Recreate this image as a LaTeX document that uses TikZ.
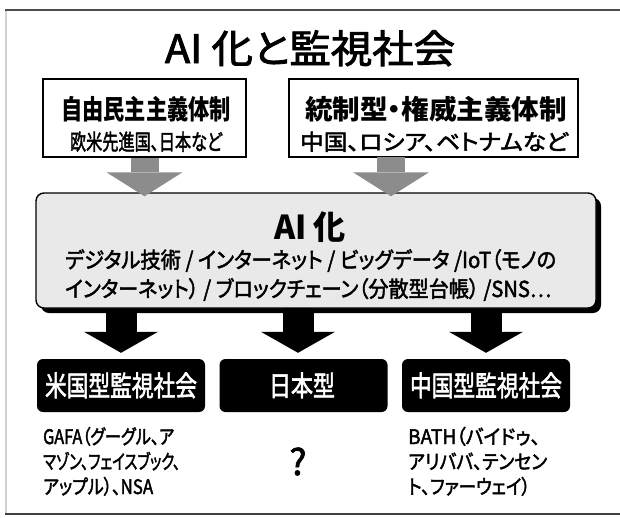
\documentclass[tikz,border=0pt]{standalone}
\usepackage{fontspec}
\usepackage{graphicx}
\setmainfont{Noto Sans CJK JP}[RawFeature=+palt]
\newfontfamily\jpm{Noto Sans CJK JP}[RawFeature=+palt, FakeBold=2.2]
\usetikzlibrary{arrows.meta,shadows}
\newcommand\fw[2]{\resizebox{#1}{\height}{#2}}
\tikzset{
  frameline/.style={line width=2pt},
  topbox/.style={draw=black, line width=1.3pt, fill=white, inner sep=0pt},
  aibox/.style={draw=black, line width=1.4pt, fill=gray!17, rounded corners=8pt, inner sep=0pt,
     drop shadow={shadow xshift=5pt, shadow yshift=-5pt, opacity=1, fill=black}},
  blkbox/.style={fill=black, rounded corners=6pt, inner sep=0pt, minimum width=168pt, minimum height=53pt},
  garrow/.style={draw=black!45, line width=28pt, -{Triangle[width=76pt,length=24pt,line width=0pt]}},
  barrow/.style={draw=black, line width=31pt, -{Triangle[width=74pt,length=21pt,line width=0pt]}},
  txt/.style={inner sep=0pt, anchor=base},
}
\begin{document}
\begin{tikzpicture}[x=1pt,y=-1pt]
\useasboundingbox (0,0) rectangle (620,517);
\fill[white] (0,0) rectangle (620,517);
% frame
\draw[frameline, draw=gray!35] (5.5,10) -- (5.5,515);
\draw[frameline, draw=black!70] (5,10) -- (620,10);
\draw[frameline, draw=black!75] (5,514) -- (620,514);
% title
\node[txt, font=\fontsize{39}{41}\jpm] (title) at (310,63) {\fw{290pt}{AI 化と監視社会}};
% top boxes
\node[topbox, minimum width=203pt, minimum height=78pt] (lt) at (144.5,118) {};
\node[topbox, minimum width=289pt, minimum height=78pt] (rt) at (433.5,118) {};
\node[txt, font=\fontsize{27}{29}\selectfont\bfseries] (lt1) at (146,119) {\fw{170pt}{自由民主主義体制}};
\node[txt, font=\fontsize{22}{24}\jpm] (lt2) at (146,150) {\fw{152pt}{欧米先進国、日本など}};
\node[txt, font=\fontsize{27}{29}\selectfont\bfseries] (rt1) at (436,119) {\fw{262pt}{統制型・権威主義体制}};
\node[txt, font=\fontsize{22}{24}\jpm] (rt2) at (434,150) {\fw{268pt}{中国、ロシア、ベトナムなど}};
% AI box
\node[aibox, minimum width=560pt, minimum height=115pt] (ai) at (316,250.5) {};
\node[txt, font=\fontsize{33}{35}\selectfont\bfseries] (ait) at (310,239) {\fw{72pt}{AI 化}};
\node[txt, anchor=base west, font=\fontsize{22}{24}\jpm] (ai1) at (65,268) {\fw{491pt}{デジタル技術 / インターネット / ビッグデータ /IoT（モノの}};
\node[txt, anchor=base west, font=\fontsize{22}{24}\jpm] (ai2) at (65,297) {\fw{486pt}{インターネット） / ブロックチェーン（分散型台帳） /SNS…}};
% grey arrows
\coordinate (ga2) at (391,157);
\draw[garrow, shorten >=-4pt] (lt.south) -- (lt.south |- ai.north);
\draw[garrow, shorten >=-4pt] (ga2) -- (ga2 |- ai.north);
% black boxes
\node[blkbox] (b1) at (121,385.5) {};
\node[blkbox] (b2) at (303.5,385.5) {};
\node[blkbox] (b3) at (486,385.5) {};
\node[txt, text=white, font=\fontsize{28}{30}\jpm] (b1t) at (121,396) {\fw{152pt}{米国型監視社会}};
\node[txt, text=white, font=\fontsize{28}{30}\jpm] (b2t) at (302,396) {\fw{66pt}{日本型}};
\node[txt, text=white, font=\fontsize{28}{30}\jpm] (b3t) at (486,396) {\fw{152pt}{中国型監視社会}};
% black arrows
\coordinate (ba2) at (298,308);
\draw[barrow, shorten >=6pt] (ai.south -| b1) -- (b1.north);
\draw[barrow, shorten >=6pt] (ba2) -- (ba2 |- b2.north);
\draw[barrow, shorten >=6pt] (ai.south -| b3) -- (b3.north);
% bottom texts
\begin{scope}[every node/.style={txt, anchor=base west, font=\fontsize{20}{22}\jpm}]
\node (l1) at (43,444) {\fw{131pt}{GAFA（グーグル、ア}};
\node (l2) at (43,469) {\fw{137pt}{マゾン、フェイスブック、}};
\node (l3) at (43,494) {\fw{110pt}{アップル）、NSA}};
\node (r1) at (408,444) {\fw{132pt}{BATH（バイドゥ、}};
\node (r2) at (408,469) {\fw{139pt}{アリババ、テンセン}};
\node (r3) at (408,494) {\fw{122pt}{ト、ファーウェイ）}};
\end{scope}
\node[txt, font=\fontsize{36}{38}\jpm] (q) at (298,475) {?};
\end{tikzpicture}
\end{document}
